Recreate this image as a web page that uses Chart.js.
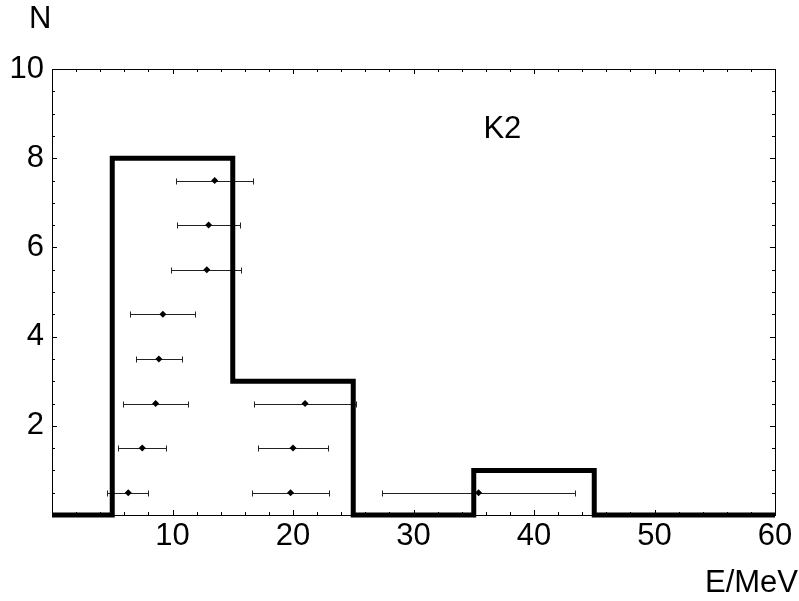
<!DOCTYPE html>
<html>
<head>
<meta charset="utf-8">
<script src="https://cdn.jsdelivr.net/npm/chart.js@4/dist/chart.umd.min.js"></script>
<style>
  html, body { margin: 0; padding: 0; background: #fff; }
</style>
</head>
<body>
<canvas id="chart" width="799" height="601"></canvas>
<script>
// histogram bins (E/MeV) and counts
const binEdges = [0, 5, 15, 25, 35, 45, 60];
const binCounts = [0, 8, 3, 0, 1, 0];

// points with horizontal error bars
const pointE = [13.5, 13.0, 12.85, 9.2, 8.87, 8.6, 21.0, 7.49, 20.0, 6.33, 19.8, 35.4];
const pointN = [7.5, 6.5, 5.5, 4.5, 3.5, 2.5, 2.5, 1.5, 1.5, 0.5, 0.5, 0.5];
const errLow = [10.3, 10.4, 9.9, 6.5, 7.0, 5.9, 16.8, 5.5, 17.1, 4.55, 16.6, 27.4];
const errHigh = [16.7, 15.6, 15.7, 11.9, 10.8, 11.3, 25.2, 9.5, 22.9, 8.0, 23.0, 43.4];

const xTicks = [10, 20, 30, 40, 50, 60];
const yTicks = [2, 4, 6, 8, 10];

const FONT = 'Liberation Sans, Arial, sans-serif';

// step line points
const histPoints = binEdges.map((e, i) => ({ x: e, y: i < binCounts.length ? binCounts[i] : 0 }));
const scatterPoints = pointE.map((e, i) => ({ x: e, y: pointN[i] }));

// error bars, frame, inner ticks and labels
const decorations = {
  id: 'decorations',
  beforeDatasetsDraw(chart) {
    const { ctx, chartArea: a, scales: { x, y } } = chart;
    ctx.save();
    ctx.strokeStyle = '#000';
    ctx.lineWidth = 1;
    // inner ticks
    for (let v = 2; v < 60; v += 2) {
      const px = Math.round(x.getPixelForValue(v)) + 0.5;
      const len = v % 10 === 0 ? 5 : 3;
      ctx.beginPath();
      ctx.moveTo(px, a.bottom); ctx.lineTo(px, a.bottom - len);
      ctx.moveTo(px, a.top); ctx.lineTo(px, a.top + len);
      ctx.stroke();
    }
    for (let v = 0.5; v < 10; v += 0.5) {
      const py = Math.round(y.getPixelForValue(v)) + 0.5;
      const len = v % 2 === 0 ? 5 : 3;
      ctx.beginPath();
      ctx.moveTo(a.left, py); ctx.lineTo(a.left + len, py);
      ctx.moveTo(a.right, py); ctx.lineTo(a.right - len, py);
      ctx.stroke();
    }
    // error bars
    ctx.strokeStyle = '#222';
    for (let i = 0; i < pointE.length; i++) {
      const py = Math.round(y.getPixelForValue(pointN[i])) + 0.5;
      const x1 = Math.round(x.getPixelForValue(errLow[i])) + 0.5;
      const x2 = Math.round(x.getPixelForValue(errHigh[i])) + 0.5;
      ctx.beginPath();
      ctx.moveTo(x1, py); ctx.lineTo(x2, py);
      ctx.moveTo(x1, py - 3); ctx.lineTo(x1, py + 3);
      ctx.moveTo(x2, py - 3); ctx.lineTo(x2, py + 3);
      ctx.stroke();
    }
    ctx.restore();
  },
  afterDraw(chart) {
    const { ctx, chartArea: a, scales: { x, y } } = chart;
    ctx.save();
    ctx.strokeStyle = '#000';
    ctx.lineWidth = 1;
    ctx.strokeRect(Math.round(a.left) + 0.5, Math.round(a.top) + 0.5,
      Math.round(a.right - a.left), Math.round(a.bottom - a.top));
    ctx.fillStyle = '#000';
    ctx.font = '31px ' + FONT;
    ctx.textBaseline = 'alphabetic';
    ctx.textAlign = 'left';
    ctx.fillText('N', 29, 28);
    ctx.fillText('E/MeV', 705, 592);
    ctx.fillText('K2', x.getPixelForValue(35.8), y.getPixelForValue(8.45));
    ctx.restore();
  }
};

new Chart(document.getElementById('chart'), {
  type: 'scatter',
  data: {
    datasets: [
      {
        type: 'line',
        data: histPoints,
        stepped: 'before',
        borderColor: '#000',
        borderWidth: 5,
        borderJoinStyle: 'miter',
        pointRadius: 0,
        fill: false,
        clip: false
      },
      {
        data: scatterPoints,
        pointStyle: 'rectRot',
        pointRadius: 3.5,
        backgroundColor: '#000',
        borderColor: '#000',
        borderWidth: 0
      }
    ]
  },
  options: {
    responsive: false,
    devicePixelRatio: 1,
    animation: false,
    layout: { padding: { top: 69, right: 24, left: 0, bottom: 0 } },
    plugins: { legend: { display: false }, tooltip: { enabled: false } },
    scales: {
      x: {
        type: 'linear',
        min: 0, max: 60,
        grid: { display: false, drawTicks: false },
        border: { display: false },
        afterFit: s => { s.height = 86; },
        afterBuildTicks: s => { s.ticks = xTicks.map(v => ({ value: v })); },
        ticks: { color: '#000', font: { family: FONT, size: 31 }, padding: 3, maxRotation: 0 }
      },
      y: {
        type: 'linear',
        min: 0, max: 10,
        grid: { display: false, drawTicks: false },
        border: { display: false },
        afterFit: s => { s.width = 52; },
        afterBuildTicks: s => { s.ticks = yTicks.map(v => ({ value: v })); },
        ticks: { color: '#000', font: { family: FONT, size: 31 }, padding: 8 }
      }
    }
  },
  plugins: [decorations]
});
</script>
</body>
</html>
